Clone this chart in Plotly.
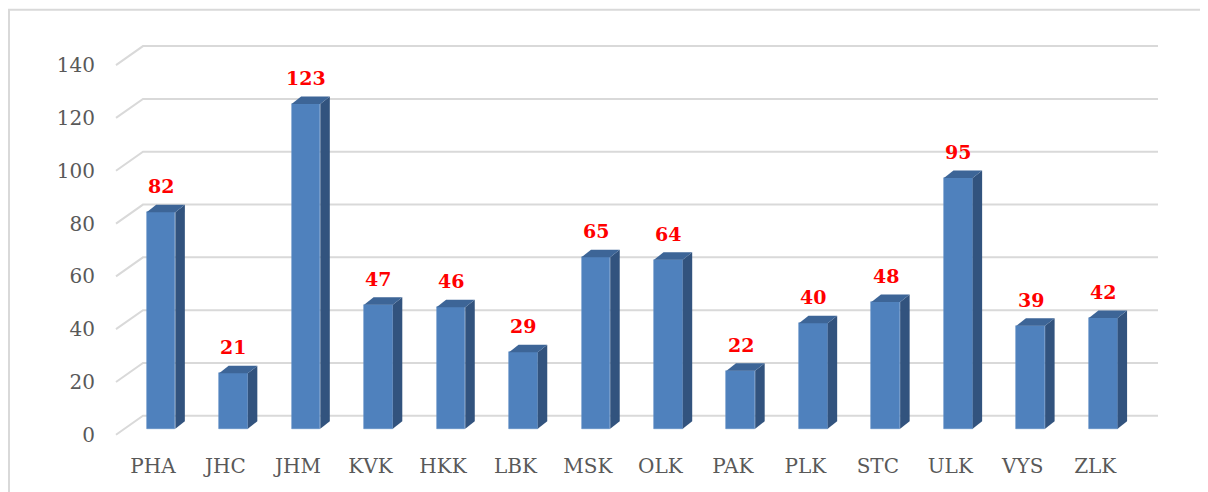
import plotly.graph_objects as go

# ---- data ----
categories = ["PHA", "JHC", "JHM", "KVK", "HKK", "LBK", "MSK", "OLK", "PAK", "PLK", "STC", "ULK", "VYS", "ZLK"]
values = [82, 21, 123, 47, 46, 29, 65, 64, 22, 40, 48, 95, 39, 42]
tick_values = [0, 20, 40, 60, 80, 100, 120, 140]
tick_labels = [str(v) for v in tick_values]

# ---- layout constants (pixels, figure coordinates; page adds 8px body margin) ----
OFF = 8
W, H = 1208, 492
S = 2.64                   # px per value unit
ZERO_PX = 429 - OFF        # pixel row of value 0 on bar front plane
YMIN, YMAX = -5, 148
PX_PER_CAT = 72.48
CAT0_PX = 153 - OFF        # pixel of first category label
ML, MR = 96, 28
MB = H - (ZERO_PX - YMIN * S)
MT = ZERO_PX - YMAX * S
XMIN = (ML - CAT0_PX) / PX_PER_CAT
XMAX = (W - MR - CAT0_PX) / PX_PER_CAT

BAR_SHIFT = 8 / PX_PER_CAT
BAR_W = 28.7 / PX_PER_CAT
DX = 9.5 / PX_PER_CAT   # depth in x (data units)
DY = 7.5 / S            # depth in y (data units)

FRONT = "#4F81BD"
SIDE = "#32537E"
TOP = "#3D6597"
GRID = "#D9D9D9"
FONT = "DejaVu Serif, Liberation Serif, serif"

x_idx = list(range(len(categories)))

fig = go.Figure()
fig.add_trace(go.Bar(
    x=x_idx, y=values, width=BAR_W, offset=-BAR_W / 2 + BAR_SHIFT,
    marker=dict(color=FRONT, line=dict(color="#5F8DC6", width=0.6)),
    hoverinfo="y", showlegend=False,
))

shapes = []
# back-wall gridlines with perspective diagonal
GRID_X_ANCHOR = (116 - OFF - CAT0_PX) / PX_PER_CAT
for v in tick_values:
    shapes.append(dict(
        type="path", xref="x", yref="y", xsizemode="pixel", ysizemode="pixel",
        xanchor=GRID_X_ANCHOR, yanchor=v,
        path="M0,-6 L27,13 L1042,13",
        line=dict(color=GRID, width=2), layer="below",
    ))

# 3D faces of bars (side and top), in data coordinates
for i, v in zip(x_idx, values):
    xl = i + BAR_SHIFT - BAR_W / 2
    xr = i + BAR_SHIFT + BAR_W / 2
    shapes.append(dict(
        type="path", xref="x", yref="y",
        path=f"M{xr},0 L{xr},{v} L{xr+DX},{v+DY} L{xr+DX},{DY} Z",
        fillcolor=SIDE, line=dict(width=0), layer="above",
    ))
    shapes.append(dict(
        type="path", xref="x", yref="y",
        path=f"M{xl},{v} L{xr},{v} L{xr+DX},{v+DY} L{xl+DX},{v+DY} Z",
        fillcolor=TOP, line=dict(width=0), layer="above",
    ))

# outer chart border (extends beyond the image on right and bottom)
pw = W - ML - MR
ph = H - MT - MB
shapes.append(dict(
    type="rect", xref="paper", yref="paper",
    x0=(9 - OFF - ML) / pw, x1=(W + 20 - ML) / pw,
    y0=-(H + 20 - (H - MB)) / ph, y1=((H - MB) - (10 - OFF)) / ph,
    line=dict(color=GRID, width=2), fillcolor="rgba(0,0,0,0)", layer="below",
))

annotations = []
for i, v in zip(x_idx, values):
    annotations.append(dict(
        x=i + BAR_SHIFT, y=v, xref="x", yref="y",
        text=f"<b>{v}</b>", showarrow=False, yanchor="middle", yshift=26,
        font=dict(family=FONT, size=19, color="#FF0000"),
    ))

fig.update_layout(
    width=W, height=H,
    margin=dict(l=ML, r=MR, t=MT, b=MB, pad=0),
    paper_bgcolor="white", plot_bgcolor="rgba(0,0,0,0)",
    shapes=shapes, annotations=annotations,
    xaxis=dict(
        range=[XMIN, XMAX], tickmode="array", tickvals=x_idx, ticktext=categories,
        showgrid=False, zeroline=False, showline=False, ticks="",
        tickfont=dict(family=FONT, size=20, color="#595959"),
        ticklabelstandoff=10, fixedrange=True,
    ),
    yaxis=dict(
        range=[YMIN, YMAX], tickmode="array", tickvals=tick_values, ticktext=tick_labels,
        showgrid=False, zeroline=False, showline=False, ticks="",
        tickfont=dict(family=FONT, size=20, color="#595959"),
        ticklabelshift=6, ticklabelstandoff=8, fixedrange=True,
    ),
    bargap=0,
)

fig.write_html("out.html")
